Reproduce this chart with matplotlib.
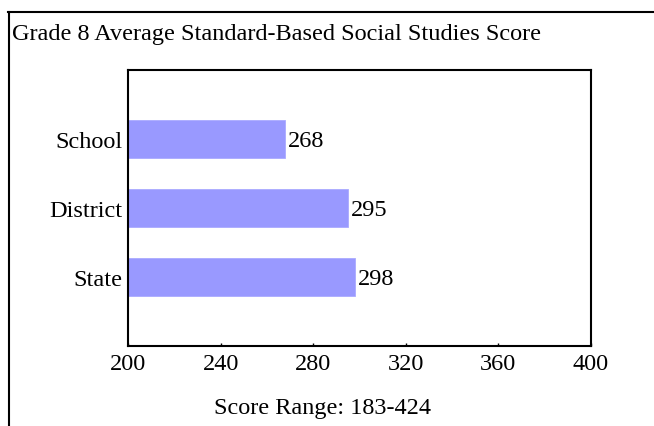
import matplotlib
matplotlib.use("Agg")
import matplotlib.pyplot as plt
from matplotlib.lines import Line2D

# Chart data
categories = ["School", "District", "State"]
scores = [268, 295, 298]
x_ticks = [200, 240, 280, 320, 360, 400]

plt.rcParams["font.family"] = ["Liberation Serif", "DejaVu Serif"]

W, H = 654, 427
FS = 17.5
fig = plt.figure(figsize=(W / 100, H / 100), dpi=100)
ax = fig.add_axes([128 / W, 1 - 347 / H, 463 / W, 276 / H])

y_pos = list(range(1, len(categories) + 1))
ax.barh(y_pos, scores, height=0.55, left=0, color="#9999ff", edgecolor="#aaaaff", linewidth=0.6)

for y, v in zip(y_pos, scores):
    ax.text(v + 1.2, y + 0.02, str(v), va="center", ha="left", fontsize=FS)

ax.set_xlim(200, 400)
ax.set_ylim(4, 0)
ax.set_xticks(x_ticks)
ax.set_yticks(y_pos)
ax.set_yticklabels(categories)
ax.tick_params(axis="x", direction="in", length=2, width=1, pad=5, labelsize=FS)
ax.tick_params(axis="y", length=0, pad=4, labelsize=FS)
for s in ax.spines.values():
    s.set_linewidth(1.5)

# title and footer text
fig.text(12 / W, 1 - 40 / H, "Grade 8 Average Standard-Based Social Studies Score",
         fontsize=FS, va="baseline", ha="left")
fig.text(322 / W, 1 - 409 / H, "Score Range: 183-424", fontsize=FS, va="center", ha="center")

# outer frame (top and left only)
fig.add_artist(Line2D([8 / W, 1], [1 - 13 / H, 1 - 13 / H], color="black", linewidth=1.5,
                      transform=fig.transFigure))
fig.add_artist(Line2D([9 / W, 9 / W], [1 - 13 / H, 0], color="black", linewidth=1.5,
                      transform=fig.transFigure))

fig.savefig("out.png", dpi=100)
